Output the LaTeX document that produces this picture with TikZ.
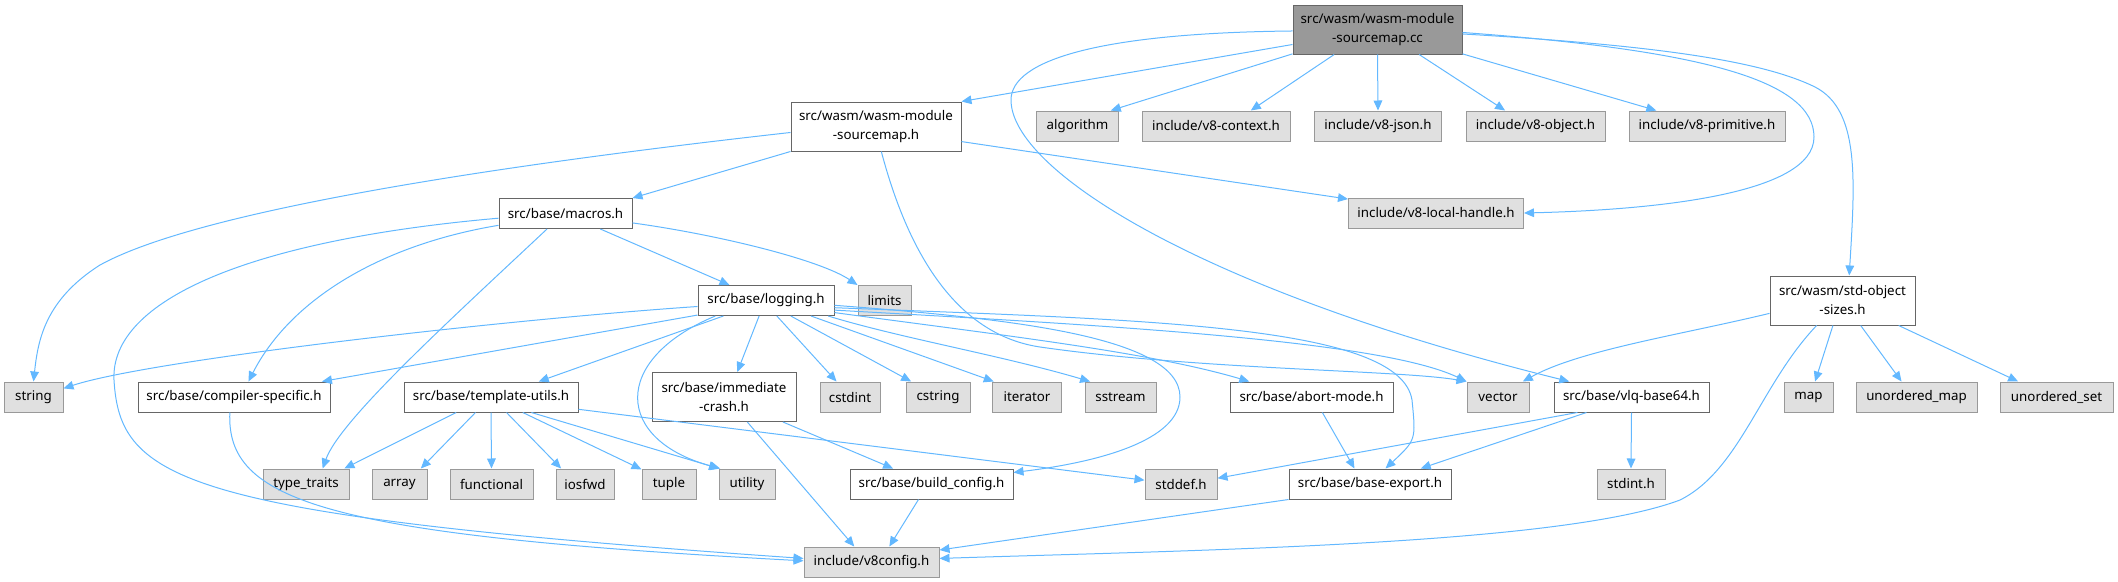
\documentclass[tikz,border=0pt]{standalone}
\usepackage{fontspec}
\setmainfont{Noto Sans}
\usepackage{tikz}
\usetikzlibrary{arrows.meta}
\definecolor{edgeblue}{HTML}{63B8FF}
\definecolor{sysfill}{HTML}{E0E0E0}
\definecolor{sysdraw}{HTML}{999999}
\definecolor{filedraw}{HTML}{666666}
\definecolor{rootfill}{HTML}{999999}
\tikzset{
  box_n/.style = {rectangle, align=center, inner xsep=1pt, inner ysep=0pt,
    minimum height=22.5pt, font=\fontsize{10}{14.25}\selectfont},
  bw/.style = {minimum width=#1*0.75pt},% largeur de la boite, en pixels
  sys_n/.style = {box_n, fill=sysfill, draw=sysdraw, line width=0.75pt},% en-tete systeme
  file_n/.style = {box_n, fill=white, draw=filedraw, line width=0.75pt},% en-tete du projet
  root_n/.style = {box_n, fill=rootfill, draw=filedraw, line width=0.75pt},% le fichier lui-meme
  tall_n/.style = {minimum height=36.75pt},% deux lignes
  dep/.style = {draw=edgeblue, line width=0.75pt, ->},
}

\begin{document}
\begin{tikzpicture}[>={Triangle[length=7.5pt,width=6.5pt]}, x=0.75pt, y=-0.75pt]
\useasboundingbox (0,0) rectangle (2118,582);

% rangee 0 et 1
\node [root_n, tall_n, bw=169] (root) at (1377.5,29.5) {src/wasm/wasm-module\\-sourcemap.cc};
\node [file_n, tall_n, bw=170] (smap) at (876,126.5) {src/wasm/wasm-module\\-sourcemap.h};
\node [sys_n, bw=82] (algo) at (1077.5,126) {algorithm};
\node [sys_n, bw=148] (ctx) at (1216,126) {include/v8-context.h};
\node [sys_n, bw=127] (json) at (1378,126) {include/v8-json.h};
\node [sys_n, bw=139] (obj) at (1535.5,126) {include/v8-object.h};
\node [sys_n, bw=156] (prim) at (1707,126) {include/v8-primitive.h};
% rangee 2 et 3
\node [sys_n, bw=175] (local) at (1436,213) {include/v8-local-handle.h};
\node [file_n, bw=133] (macros) at (565.5,213.5) {src/base/macros.h};
\node [file_n, bw=136] (logging) at (766,300.5) {src/base/logging.h};
\node [sys_n, bw=53] (limits) at (884.5,300.5) {limits};
\node [file_n, tall_n, bw=145] (stdobj) at (1842.5,300.5) {src/wasm/std-object\\-sizes.h};
% rangee 4
\node [sys_n, bw=59] (string) at (33.5,397) {string};
\node [file_n, bw=192] (cspec) at (234,397) {src/base/compiler-specific.h};
\node [file_n, bw=174] (tutils) at (491,397) {src/base/template-utils.h};
\node [file_n, tall_n, bw=144] (icrash) at (724,397) {src/base/immediate\\-crash.h};
\node [sys_n, bw=60] (cstdint) at (850,397) {cstdint};
\node [sys_n, bw=64] (cstring) at (938,397) {cstring};
\node [sys_n, bw=69] (iter) at (1027,397) {iterator};
\node [sys_n, bw=71] (sstream) at (1120.5,397) {sstream};
\node [file_n, bw=163] (abort) at (1311.5,397) {src/base/abort-mode.h};
\node [sys_n, bw=62] (vector) at (1498,397) {vector};
\node [file_n, bw=155] (vlq) at (1631.5,397) {src/base/vlq-base64.h};
\node [sys_n, bw=49] (map) at (1808.5,397) {map};
\node [sys_n, bw=121] (umap) at (1916.5,397) {unordered\_map};
\node [sys_n, bw=113] (uset) at (2056.5,397) {unordered\_set};
% rangee 5 et 6
\node [sys_n, bw=86] (ttraits) at (306,484) {type\_traits};
\node [sys_n, bw=55] (array) at (399.5,484) {array};
\node [sys_n, bw=83] (func) at (491.5,484) {functional};
\node [sys_n, bw=58] (iosfwd) at (585,484) {iosfwd};
\node [sys_n, bw=54] (tuple) at (669,484) {tuple};
\node [sys_n, bw=56] (utility) at (747,484) {utility};
\node [file_n, bw=163] (bconfig) at (931.5,484) {src/base/build\_config.h};
\node [sys_n, bw=72] (stddef) at (1181,484) {stddef.h};
\node [file_n, bw=162] (bexport) at (1370,484) {src/base/base-export.h};
\node [sys_n, bw=68] (stdint) at (1631,484) {stdint.h};
\node [sys_n, bw=135] (v8cfg) at (871.5,562) {include/v8config.h};

% depuis le fichier .cc
\draw [dep] (root.190) -- (smap.north east);
\draw [dep] (root.196) -- (algo.25);
\draw [dep] (root.210) -- (ctx.24);
\draw [dep] (root.south) -- (json.north);
\draw [dep] (root.-31) -- (obj.153);
\draw [dep] (root.-16.5) -- (prim.163.5);
\draw [dep] (root.-2) .. controls (1700,50) and (1814,80) .. (1814,137)
  .. controls (1814,195) and (1650,210) .. (local.east);
\draw [dep] (root.-3) .. controls (1650,45) and (1760,60) .. (1815,87)
  .. controls (1860,110) and (1855,180) .. (stdobj.75);
\draw [dep] (root.181) .. controls (1100,33) and (1011,60) .. (1011,100)
  .. controls (1011,170) and (1200,290) .. (vlq.166);
% wasm-module-sourcemap.h
\draw [dep] (smap.south west) -- (macros.13);
\draw [dep] (smap.184) .. controls (500,165) and (200,210) .. (100,265)
  .. controls (45,300) and (38,340) .. (string.north);
\draw [dep] (smap.-10) -- (local.171);
\draw [dep] (smap.-78) .. controls (910,260) and (960,335) .. (1040,347)
  .. controls (1200,370) and (1400,370) .. (vector.north west);
% macros.h
\draw [dep] (macros.-24) -- (logging.157);
\draw [dep] (macros.-8) .. controls (720,235) and (820,260) .. (limits.north west);
\draw [dep] (macros.220) .. controls (450,320) and (340,420) .. (ttraits.43);
\draw [dep] (macros.190) .. controls (380,245) and (290,300) .. (cspec.47);
\draw [dep] (macros.184) .. controls (250,240) and (110,300) .. (114,380)
  .. controls (120,480) and (180,515) .. (v8cfg.177);
\draw [dep] (cspec.255) .. controls (226,500) and (320,535) .. (v8cfg.179);
% logging.h
\draw [dep] (logging.185) .. controls (500,320) and (150,360) .. (string.16);
\draw [dep] (logging.192) -- (cspec.10);
\draw [dep] (logging.200) -- (tutils.18);
\draw [dep] (logging.197) .. controls (610,360) and (615,440) .. (utility.150);
\draw [dep] (logging.246) -- (icrash.62);
\draw [dep] (logging.-55) -- (cstdint.131);
\draw [dep] (logging.-32) -- (cstring.150);
\draw [dep] (logging.-19) -- (iter.155);
\draw [dep] (logging.-14) .. controls (900,338) and (1000,355) .. (sstream.153);
\draw [dep] (logging.-10) .. controls (1000,335) and (1150,352) .. (abort.166);
\draw [dep] (logging.-8) .. controls (1100,325) and (1380,340) .. (vector.north west);
\draw [dep] (logging.-6) .. controls (1150,320) and (1400,325) .. (1412,400)
  .. controls (1416,440) .. (bexport.45);
\draw [dep] (logging.-4) .. controls (1000,318) and (1180,335) .. (1180,397)
  .. controls (1180,440) and (1100,462) .. (bconfig.8);
% template-utils.h
\draw [dep] (tutils.204) -- (ttraits.22);
\draw [dep] (tutils.225) -- (array.36);
\draw [dep] (tutils.south) -- (func.north);
\draw [dep] (tutils.-45) -- (iosfwd.147);
\draw [dep] (tutils.-26) -- (tuple.152);
\draw [dep] (tutils.-21) -- (utility.151);
\draw [dep] (tutils.-8.5) -- (stddef.174);
% les autres
\draw [dep] (icrash.-23) -- (bconfig.158);
\draw [dep] (icrash.-47) -- (v8cfg.138);
\draw [dep] (bconfig.230) -- (v8cfg.41);
\draw [dep] (abort.-55) -- (bexport.135);
\draw [dep] (bexport.south west) -- (v8cfg.10);
\draw [dep] (vlq.196) -- (stddef.9.5);
\draw [dep] (vlq.199) -- (bexport.17);
\draw [dep] (vlq.south) -- (stdint.north);
% std-object-sizes.h
\draw [dep] (stdobj.190) .. controls (1680,335) and (1580,350) .. (vector.32);
\draw [dep] (stdobj.249) -- (map.67);
\draw [dep] (stdobj.-54.5) -- (umap.134);
\draw [dep] (stdobj.-24) -- (uset.158);
\draw [dep] (stdobj.224) .. controls (1760,385) and (1740,470) .. (1680,500)
  .. controls (1560,545) and (1200,550) .. (v8cfg.3);
\end{tikzpicture}
\end{document}
